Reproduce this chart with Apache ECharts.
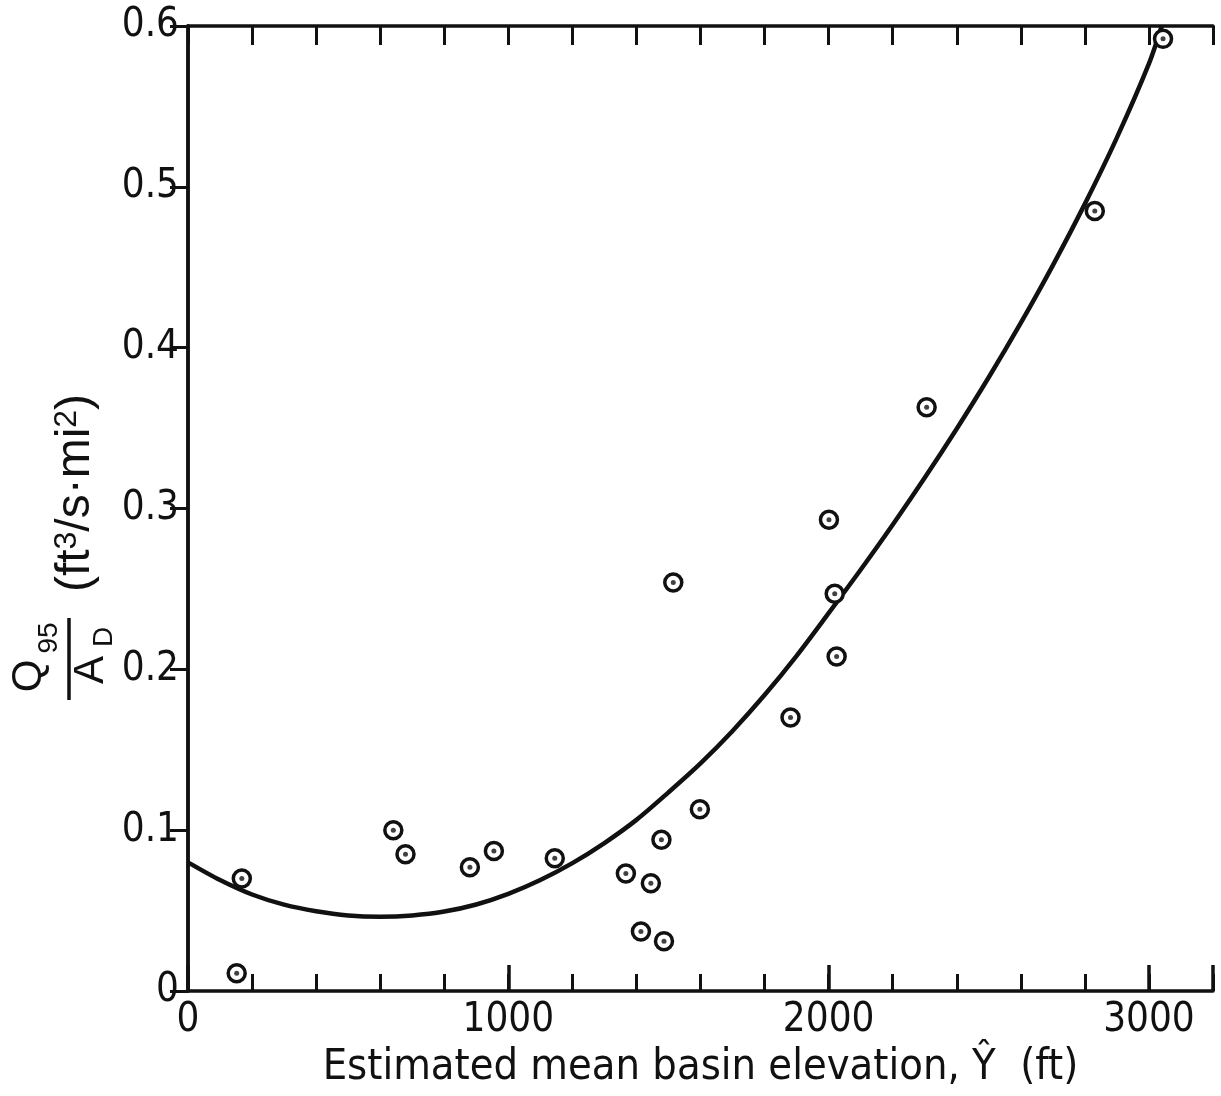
<!DOCTYPE html>
<html><head><meta charset="utf-8">
<script src="https://cdn.jsdelivr.net/npm/echarts@6/dist/echarts.min.js"></script>
<style>html,body{margin:0;padding:0;background:#fff}#c{width:1221px;height:1096px}</style>
</head><body><div id="c"></div>
<script>
// Observed points: estimated mean basin elevation (ft) vs Q95/AD
const elevation = [152, 168, 641, 679, 880, 955, 1145, 1367, 1414, 1445, 1478, 1486, 1515, 1598, 1881, 2001, 2019, 2025, 2306, 2831, 3044];
const q95PerArea = [0.011, 0.070, 0.100, 0.085, 0.077, 0.087, 0.0825, 0.073, 0.037, 0.067, 0.094, 0.031, 0.254, 0.113, 0.170, 0.293, 0.247, 0.208, 0.363, 0.485, 0.592];
// Fitted curve, every 100 ft
const curveX = [0, 100, 200, 300, 400, 500, 600, 700, 800, 900, 1000, 1100, 1200, 1300, 1400, 1500, 1600, 1700, 1800, 1900, 2000, 2100, 2200, 2300, 2400, 2500, 2600, 2700, 2800, 2900, 3000, 3040];
const curveY = [0.0800, 0.0690, 0.0600, 0.0537, 0.0496, 0.0470, 0.0462, 0.0470, 0.0494, 0.0538, 0.0604, 0.0690, 0.0795, 0.0920, 0.1064, 0.1235, 0.1415, 0.1617, 0.1840, 0.2084, 0.2349, 0.2619, 0.2899, 0.3191, 0.3496, 0.3816, 0.4154, 0.4512, 0.4894, 0.5306, 0.5766, 0.6000];
const xTickLabels = [0, 1000, 2000, 3000];
const yTickLabels = ['0', '0.1', '0.2', '0.3', '0.4', '0.5', '0.6'];
const xTitle = 'Estimated mean basin elevation, Ŷ  (ft)';

const FONT = "'DejaVu Sans Condensed', 'Liberation Sans Narrow', sans-serif";
const SANS = "'Liberation Sans', 'Helvetica', sans-serif";
const INK = '#111';

const pts = elevation.map((x, i) => [x, q95PerArea[i]]);
const curve = curveX.map((x, i) => [x, curveY[i]]);

const chart = echarts.init(document.getElementById('c'), null, {renderer: 'canvas'});
const lineStyle = {color: INK, width: 3.5};
chart.setOption({
  animation: false,
  backgroundColor: '#fff',
  grid: {left: 188, right: 8, top: 26, bottom: 105},
  xAxis: [
    { type: 'value', min: 0, max: 3200, interval: 200, position: 'bottom',
      axisLine: {show: true, lineStyle},
      axisTick: {show: true, inside: true, length: 17, lineStyle: {color: INK, width: 3}},
      axisLabel: {show: true, margin: 10, fontFamily: FONT, fontSize: 40, color: INK,
        formatter: v => xTickLabels.indexOf(v) >= 0 ? String(v) : ''},
      splitLine: {show: false},
      name: xTitle, nameLocation: 'middle', nameGap: 53,
      nameTextStyle: {fontFamily: FONT, fontSize: 43, color: INK}
    },
    { type: 'value', min: 0, max: 3200, interval: 1000, position: 'bottom', offset: 0,
      axisLine: {show: false},
      axisTick: {show: true, inside: true, length: 26, lineStyle: {color: INK, width: 3.5}},
      axisLabel: {show: false}, splitLine: {show: false}
    },
    { type: 'value', min: 0, max: 3200, interval: 200, position: 'top',
      axisLine: {show: true, lineStyle},
      axisTick: {show: true, inside: true, length: 19, lineStyle: {color: INK, width: 3}},
      axisLabel: {show: false}, splitLine: {show: false}
    }
  ],
  yAxis: [
    { type: 'value', min: 0, max: 0.6, interval: 0.1, position: 'left',
      axisLine: {show: true, lineStyle},
      axisTick: {show: false},
      axisLabel: {show: true, margin: 9, fontFamily: FONT, fontSize: 40, color: INK,
        formatter: v => yTickLabels[Math.round(v * 10)]},
      splitLine: {show: false}
    },
    { type: 'value', min: 0, max: 0.6, interval: 0.1, position: 'right',
      axisLine: {show: true, lineStyle},
      axisTick: {show: true, inside: true, length: 18, lineStyle: {color: INK, width: 3}},
      axisLabel: {show: false}, splitLine: {show: false}
    }
  ],
  series: [
    { type: 'line', data: curve, smooth: 0.3, showSymbol: false, symbol: 'none',
      lineStyle: {color: INK, width: 4.5}, z: 2 },
    { type: 'scatter', data: pts, symbol: 'circle', symbolSize: 17,
      itemStyle: {color: '#fff', borderColor: INK, borderWidth: 3.5, opacity: 1}, z: 3 },
    { type: 'scatter', data: pts, symbol: 'circle', symbolSize: 5,
      itemStyle: {color: INK}, z: 4 }
  ],
  graphic: [
    { type: 'group', x: 69, y: 660, rotation: Math.PI / 2, children: [
      { type: 'line', shape: {x1: -40, y1: 0, x2: 42, y2: 0}, style: {stroke: INK, lineWidth: 3.5} },
      { type: 'text', x: -16, y: -40, style: {text: 'Q', fontFamily: SANS, fontSize: 42, fill: INK, align: 'center', verticalAlign: 'middle'} },
      { type: 'text', x: 22, y: -20, style: {text: '95', fontFamily: SANS, fontSize: 28, fill: INK, align: 'center', verticalAlign: 'middle'} },
      { type: 'text', x: -10, y: 22, style: {text: 'A', fontFamily: SANS, fontSize: 42, fill: INK, align: 'center', verticalAlign: 'middle'} },
      { type: 'text', x: 23, y: 35, style: {text: 'D', fontFamily: SANS, fontSize: 28, fill: INK, align: 'center', verticalAlign: 'middle'} }
    ]},
    { type: 'group', x: 76, y: 493, rotation: Math.PI / 2, children: [
      { type: 'text', x: 0, y: 0, style: {
        text: '(ft{sup|3}/s·mi{sup|2})', fontFamily: SANS, fontSize: 48, fill: INK,
        align: 'center', verticalAlign: 'middle', lineHeight: 50,
        rich: {sup: {fontFamily: SANS, fontSize: 32, lineHeight: 30, verticalAlign: 'top', fill: INK}}
      } }
    ]}
  ]
});
</script></body></html>
